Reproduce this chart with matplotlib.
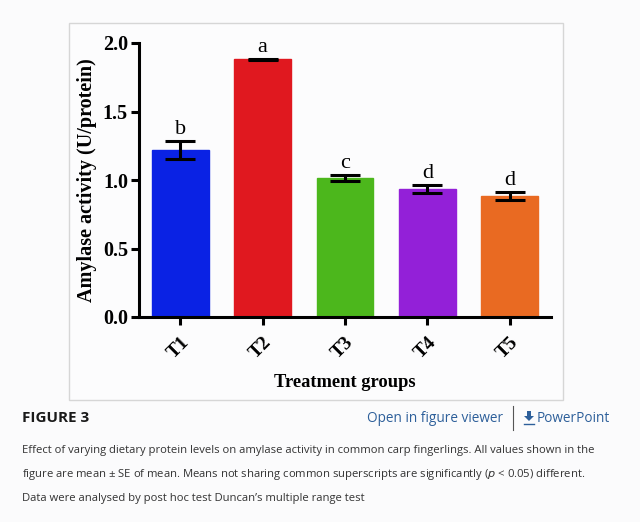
import matplotlib
matplotlib.use("Agg")
import matplotlib.pyplot as plt
from matplotlib.patches import Rectangle, Polygon
from matplotlib.lines import Line2D

groups = ["T1", "T2", "T3", "T4", "T5"]
means = [1.22, 1.88, 1.015, 0.935, 0.885]
se = [0.065, 0.005, 0.022, 0.027, 0.028]
letters = ["b", "a", "c", "d", "d"]
colors = ["#0a22e4", "#e0181f", "#4cb71c", "#9320d8", "#e96a22"]
yticks = [0.0, 0.5, 1.0, 1.5, 2.0]
ylabel = "Amylase activity (U/protein)"
xlabel = "Treatment groups"
fig_title = "FIGURE 3"
caption = ["Effect of varying dietary protein levels on amylase activity in common carp fingerlings. All values shown in the",
           "figure are mean \u00b1 SE of mean. Means not sharing common superscripts are significantly ($p$ < 0.05) different.",
           "Data were analysed by post hoc test Duncan\u2019s multiple range test"]

W, H = 640, 522
fig = plt.figure(figsize=(W / 100, H / 100), dpi=100, facecolor="#fbfbfc")

def fx(px):
    return px / W

def fy(py):
    return 1 - py / H

# outer frame of figure panel
fig.patches.append(Rectangle((fx(69), fy(400)), fx(563) - fx(69), fy(23) - fy(400),
                             transform=fig.transFigure, facecolor="#fcfcfd",
                             edgecolor="#d6d6d6", lw=1.0, zorder=-5))

ax = fig.add_axes([fx(139), fy(317), fx(551) - fx(139), fy(43) - fy(317)], zorder=2)
ax.set_facecolor("none")
serif = ["Liberation Serif", "DejaVu Serif"]

x = list(range(len(groups)))
ax.bar(x, means, width=0.69, color=colors, edgecolor=colors, zorder=2)
ax.errorbar(x, means, yerr=se, fmt="none", ecolor="black", elinewidth=2.2,
            capsize=10.5, capthick=2.2, zorder=3)
for i, (m, s, l) in enumerate(zip(means, se, letters)):
    ax.text(i, m + s + 0.015, l, ha="center", va="bottom", fontsize=16,
            family=serif, color="black")

ax.set_xlim(-0.5, 4.5)
ax.set_ylim(0, 2.0)
ax.set_yticks(yticks)
ax.set_yticklabels([f"{v:.1f}" for v in yticks], family=serif, fontweight="bold", fontsize=14.5)
ax.set_xticks(x)
ax.set_xticklabels(groups, family=serif, fontweight="bold", fontsize=14,
                   rotation=45, ha="right", va="top", rotation_mode="anchor")
for s in ["top", "right"]:
    ax.spines[s].set_visible(False)
for s in ["left", "bottom"]:
    ax.spines[s].set_linewidth(2.2)
ax.tick_params(axis="both", direction="out", width=2.2, length=6, pad=2)
ax.tick_params(axis="x", pad=6)
ax.set_ylabel(ylabel, family=serif, fontweight="bold", fontsize=14.5, labelpad=4)
ax.set_xlabel(xlabel, family=serif, fontweight="bold", fontsize=13.3, labelpad=9)

# bottom captions
sans = ["Open Sans", "DejaVu Sans"]
fig.text(fx(22), fy(418), fig_title, ha="left", va="center", fontsize=11,
         fontweight="bold", family=sans, color="#1a1a1a")
fig.text(fx(367), fy(418), "Open in figure viewer", ha="left", va="center",
         fontsize=9.8, family=sans, color="#2d5f9a")
fig.add_artist(Line2D([fx(513), fx(513)], [fy(406), fy(430)], transform=fig.transFigure,
                      color="#555555", lw=0.8))
# download icon
icon = [(527, 411), (531, 411), (531, 416), (534, 416), (529, 421), (524, 416), (527, 416)]
fig.patches.append(Polygon([(fx(a), fy(b)) for a, b in icon], closed=True,
                           transform=fig.transFigure, facecolor="#2d5f9a", edgecolor="none"))
fig.add_artist(Line2D([fx(524), fx(534)], [fy(424), fy(424)], transform=fig.transFigure,
                      color="#2d5f9a", lw=1.0))
fig.text(fx(537), fy(418), "PowerPoint", ha="left", va="center",
         fontsize=9.8, family=sans, color="#2d5f9a")
for line, yy in zip(caption, [451, 475, 499]):
    fig.text(fx(22), fy(yy), line, ha="left", va="center", fontsize=8.1,
             family=sans, color="#333333")

fig.savefig("out.png", dpi=100, facecolor=fig.get_facecolor())
